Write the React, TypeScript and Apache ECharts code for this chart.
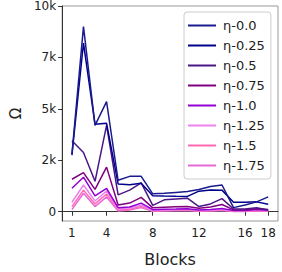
import React, { useEffect, useRef } from "react";
import * as echarts from "echarts";

const blocks = [1, 2, 3, 4, 5, 6, 7, 8, 9, 10, 11, 12, 13, 14, 15, 16, 17, 18];
const seriesNames = ["η-0.0", "η-0.25", "η-0.5", "η-0.75", "η-1.0", "η-1.25", "η-1.5", "η-1.75"];
const colors = ["#1a1a8e", "#00008b", "#4b1686", "#800080", "#9400d3", "#ee82ee", "#ff69b4", "#e66ad6"];

const eta000 = [2800, 9000, 4200, 5350, 1530, 1720, 1720, 870, 900, 940, 980, 1080, 1230, 1300, 200, 330, 480, 720];
const eta025 = [2750, 8200, 4250, 4300, 1350, 1310, 1380, 780, 760, 750, 745, 1000, 1060, 1050, 460, 460, 480, 360];
const eta050 = [3450, 2880, 1480, 4200, 820, 1050, 1400, 310, 580, 620, 660, 250, 380, 640, 130, 130, 190, 90];
const eta075 = [1580, 1900, 1090, 2170, 330, 420, 700, 190, 220, 240, 260, 170, 230, 350, 90, 100, 150, 110];
const eta100 = [1140, 1680, 770, 1130, 200, 230, 420, 100, 120, 130, 150, 80, 110, 160, 60, 60, 110, 70];
const eta125 = [460, 1300, 520, 1010, 130, 180, 330, 60, 80, 100, 120, 50, 80, 110, 40, 40, 80, 50];
const eta150 = [250, 1050, 380, 860, 80, 120, 260, 40, 60, 70, 80, 30, 50, 80, 25, 25, 60, 35];
const eta175 = [100, 900, 250, 720, 40, 80, 200, 20, 40, 50, 60, 20, 30, 60, 15, 15, 40, 20];
const seriesValues = [eta000, eta025, eta050, eta075, eta100, eta125, eta150, eta175];

const xTicks = [1, 4, 8, 12, 16, 18];
const yTicks = [0, 2500, 5000, 7500, 10000];

const FONT = "DejaVu Sans";

export default function App() {
  const ref = useRef<HTMLDivElement>(null);
  useEffect(() => {
    if (!ref.current) return;
    const chart = echarts.init(ref.current, null, { renderer: "svg" });
    chart.setOption({
      animation: false,
      grid: {
        left: 48,
        top: 5,
        width: 230,
        height: 231,
        show: true,
        borderColor: "#999",
        borderWidth: 1,
        backgroundColor: "transparent",
      },
      xAxis: {
        type: "value",
        min: 0.15,
        max: 18.85,
        name: "Blocks",
        nameLocation: "middle",
        nameGap: 30,
        nameTextStyle: { fontFamily: FONT, fontSize: 16, color: "#222" },
        axisLine: { show: true, lineStyle: { color: "#333", width: 1 } },
        axisTick: { show: true, customValues: xTicks, length: 4, lineStyle: { color: "#333" } },
        axisLabel: {
          customValues: xTicks,
          fontFamily: FONT,
          fontSize: 12,
          color: "#222",
          margin: 6,
        },
        splitLine: { show: false },
      },
      yAxis: {
        type: "value",
        min: -450,
        max: 10000,
        name: "Ω",
        nameLocation: "middle",
        nameGap: 39,
        nameRotate: 90,
        nameTextStyle: { fontFamily: FONT, fontSize: 15, color: "#222" },
        axisLine: { show: true, lineStyle: { color: "#333", width: 1 } },
        axisTick: { show: true, customValues: yTicks, length: 4, lineStyle: { color: "#333" } },
        axisLabel: {
          customValues: yTicks,
          fontFamily: FONT,
          fontSize: 12,
          color: "#222",
          margin: 6,
          formatter: (v: number) => (v === 0 ? "0" : Math.floor(v / 1000) + "k"),
        },
        splitLine: { show: false },
      },
      legend: {
        orient: "vertical",
        left: 184,
        top: 12,
        padding: [6, 6, 6, 4],
        itemWidth: 28,
        itemHeight: 2,
        itemGap: 5,
        icon: "rect",
        borderColor: "#ccc",
        borderWidth: 1,
        borderRadius: 3,
        backgroundColor: "#fff",
        textStyle: { fontFamily: FONT, fontSize: 13, color: "#222", padding: [0, 0, 0, 2], lineHeight: 15 },
        data: seriesNames,
      },
      series: seriesNames.map((name, i) => ({
        name,
        type: "line",
        symbol: "none",
        data: blocks.map((b, j) => [b, seriesValues[i][j]]),
        lineStyle: { color: colors[i], width: 1.5 },
        itemStyle: { color: colors[i] },
        z: 10 - i,
      })),
    });
    return () => chart.dispose();
  }, []);
  return <div ref={ref} style={{ width: 282, height: 272, position: "absolute", left: 0, top: 0 }} />;
}
